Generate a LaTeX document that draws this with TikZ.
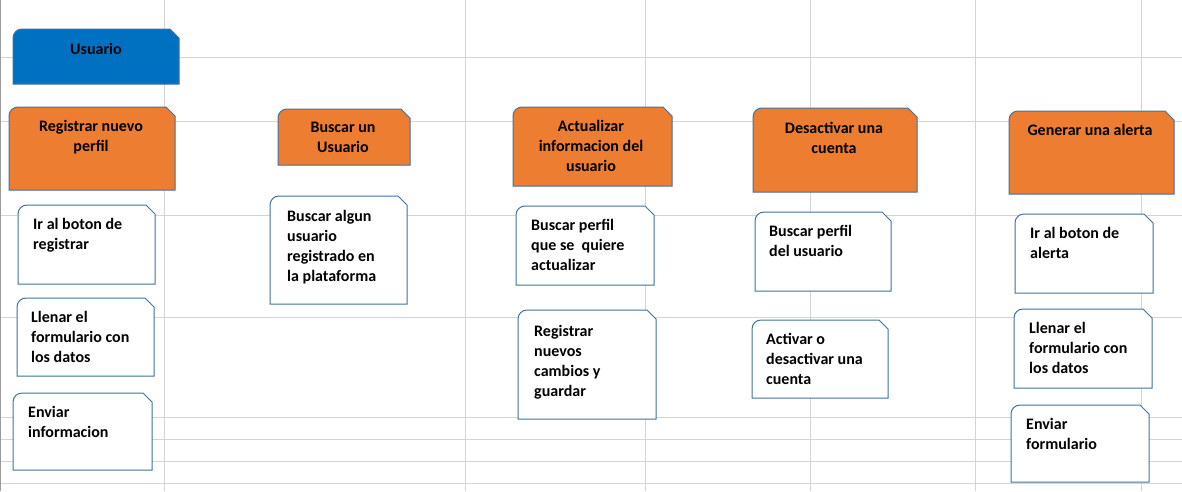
\documentclass[tikz,border=0pt]{standalone}
\usepackage{fontspec}
\setmainfont{Carlito}
\usepackage{xcolor}
\usepackage{tikz}
\definecolor{gridline}{HTML}{D4D4D4}
\definecolor{sheetedge}{HTML}{9B9B9B}
\definecolor{actorblue}{HTML}{0070C0}
\definecolor{taskorange}{HTML}{ED7D31}
\definecolor{outline}{HTML}{41719C}
\tikzset{
  gridln/.style={draw=gridline, line width=1pt},
  actorbox/.style={fill=actorblue, draw=outline, line width=1pt},
  taskbox/.style={fill=taskorange, draw=outline, line width=1pt},
  stepbox/.style={fill=white, draw=outline, line width=1pt},
  boxtext/.style={
    font=\bfseries\fontsize{16}{20}\selectfont,
    text=black,
    inner sep=0pt,
    execute at begin node=\strut
  },
  headtext/.style={boxtext, anchor=north, align=flush center, text width=170pt},
  steptext/.style={boxtext, anchor=north west, align=flush left, text width=140pt}
}
% box with a round top left corner and a cut top right corner
\newcommand{\snipbox}[5]{%
  \draw[#1] (#2,#5) -- (#2,{#3+9}) .. controls (#2,{#3+4}) and ({#2+4},#3) .. ({#2+9},#3)
    -- ({#4-9},#3) -- (#4,{#3+9}) -- (#4,#5) -- cycle;}

\begin{document}
\begin{tikzpicture}[x=1pt, y=-1pt]
  \useasboundingbox (0,0) rectangle (1182,491);

  % sheet grid
  \foreach \gx in {164,465,645,810,975,1141}
    \draw[gridln] (\gx,0) -- (\gx,491);
  \foreach \gy in {57,121,215,317,417,439,461,483}
    \draw[gridln] (0,\gy) -- (1182,\gy);
  \draw[draw=sheetedge, line width=1.2pt] (0.6,0) -- (0.6,491);

  % actor
  \snipbox{actorbox}{13}{29}{179}{84}
  \node[headtext] (usuario) at (96,40) {Usuario};

  % use cases
  \snipbox{taskbox}{9}{107}{175}{190}
  \node[headtext] (registrar) at (91,117.5) {Registrar nuevo\\perfil};
  \snipbox{taskbox}{278}{109}{410}{165}
  \node[headtext] (buscar) at (343,118.3) {Buscar un\\Usuario};
  \snipbox{taskbox}{513}{107}{672}{186}
  \node[headtext] (actualizar) at (591,117.3) {Actualizar\\informacion del\\usuario};
  \snipbox{taskbox}{753}{108}{917}{192}
  \node[headtext] (desactivar) at (834,119.3) {Desactivar una\\cuenta};
  \snipbox{taskbox}{1009}{111}{1174}{194}
  \node[headtext] (alerta) at (1090,121) {Generar una alerta};

  % steps: registrar
  \snipbox{stepbox}{18}{205}{155}{284}
  \node[steptext] (reg1) at (33,215) {Ir al boton de\\registrar};
  \snipbox{stepbox}{17}{298}{154}{376}
  \node[steptext] (reg2) at (31,308.3) {Llenar el\\formulario con\\los datos};
  \snipbox{stepbox}{13}{393}{152}{470}
  \node[steptext] (reg3) at (28,403.3) {Enviar\\informacion};

  % steps: buscar
  \snipbox{stepbox}{270}{196}{407}{304}
  \node[steptext] (bus1) at (287,207.7) {Buscar algun\\usuario\\registrado en\\la plataforma};

  % steps: actualizar
  \snipbox{stepbox}{516}{206}{654}{285}
  \node[steptext] (act1) at (531,216) {Buscar perfil\\que se~ quiere\\actualizar};
  \snipbox{stepbox}{518}{310}{656}{419}
  \node[steptext] (act2) at (534,322.7) {Registrar\\nuevos\\cambios y\\guardar};

  % steps: desactivar
  \snipbox{stepbox}{755}{212}{891}{291}
  \node[steptext] (des1) at (769,222) {Buscar perfil\\del usuario};
  \snipbox{stepbox}{752}{320}{888}{398}
  \node[steptext] (des2) at (766,330) {Activar o\\desactivar una\\cuenta};

  % steps: alerta
  \snipbox{stepbox}{1015}{214}{1153}{293}
  \node[steptext] (ale1) at (1030,224) {Ir al boton de\\alerta};
  \snipbox{stepbox}{1014}{309}{1152}{388}
  \node[steptext] (ale2) at (1029,319) {Llenar el\\formulario con\\los datos};
  \snipbox{stepbox}{1011}{405}{1149}{482}
  \node[steptext] (ale3) at (1026,415.3) {Enviar\\formulario};
\end{tikzpicture}
\end{document}
